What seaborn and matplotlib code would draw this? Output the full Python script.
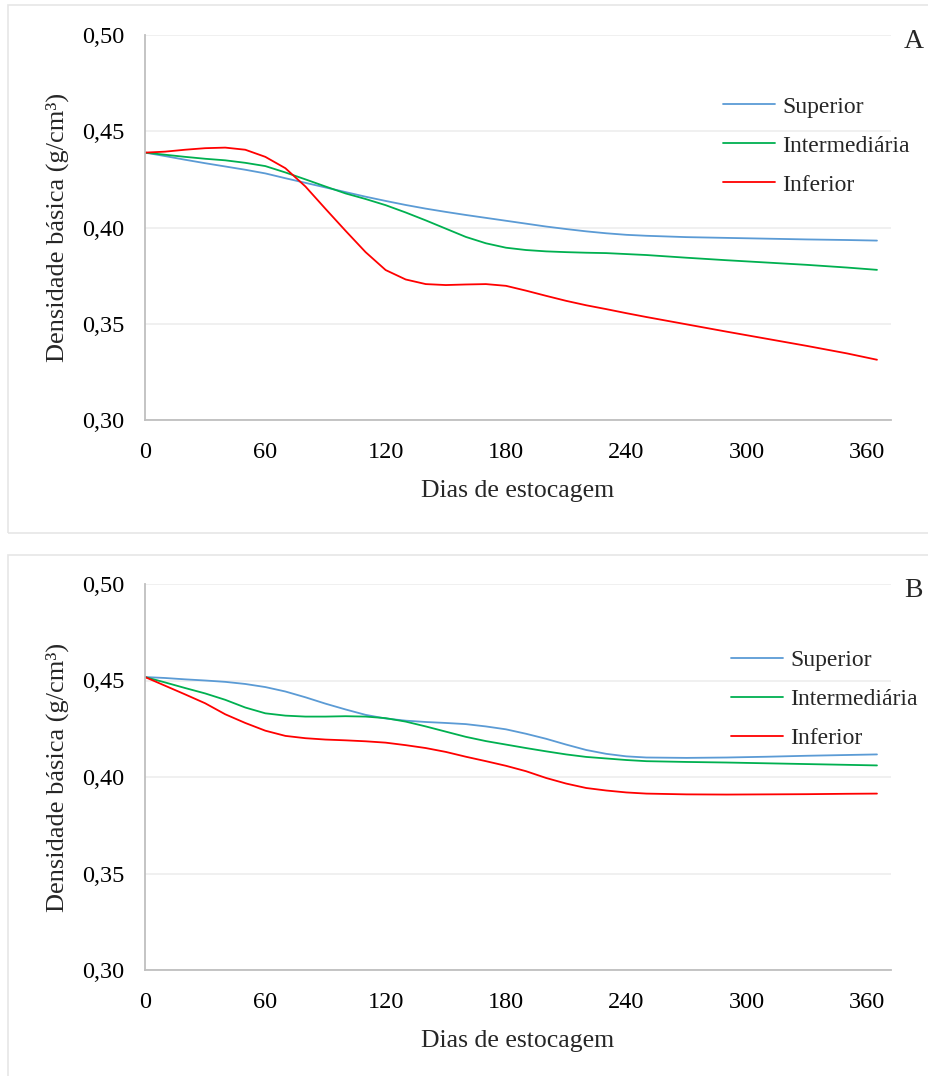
import numpy as np
import pandas as pd
import matplotlib
matplotlib.use("Agg")
import matplotlib.pyplot as plt
from matplotlib.patches import Rectangle
from matplotlib.ticker import FuncFormatter
import seaborn as sns

# ---- data ----
days = [0, 10, 20, 30, 40, 50, 60, 70, 80, 90, 100, 110, 120, 130, 140, 150, 160, 170, 180,
        190, 200, 210, 220, 230, 240, 250, 270, 290, 310, 330, 350, 365]

a_superior = [0.4389, 0.4371, 0.4352, 0.4334, 0.4317, 0.4300, 0.4281, 0.4256, 0.4232, 0.4208, 0.4184,
              0.4160, 0.4138, 0.4117, 0.4098, 0.4081, 0.4065, 0.4050, 0.4035, 0.4020, 0.4005, 0.3992,
              0.3980, 0.3970, 0.3962, 0.3957, 0.3950, 0.3946, 0.3942, 0.3938, 0.3935, 0.3932]
a_intermediaria = [0.4389, 0.4378, 0.4367, 0.4357, 0.4349, 0.4336, 0.4319, 0.4286, 0.4250, 0.4213, 0.4177,
                   0.4148, 0.4116, 0.4078, 0.4037, 0.3994, 0.3951, 0.3918, 0.3895, 0.3883, 0.3876, 0.3872,
                   0.3869, 0.3867, 0.3862, 0.3857, 0.3843, 0.3830, 0.3818, 0.3806, 0.3792, 0.3780]
a_inferior = [0.4389, 0.4394, 0.4404, 0.4412, 0.4415, 0.4404, 0.4367, 0.4308, 0.4213, 0.4097, 0.3983,
              0.3872, 0.3779, 0.3730, 0.3706, 0.3701, 0.3704, 0.3706, 0.3697, 0.3672, 0.3645, 0.3619,
              0.3596, 0.3576, 0.3555, 0.3535, 0.3497, 0.3459, 0.3422, 0.3385, 0.3346, 0.3313]

b_superior = [0.4518, 0.4513, 0.4506, 0.4500, 0.4493, 0.4482, 0.4466, 0.4443, 0.4413, 0.4380, 0.4350,
              0.4322, 0.4303, 0.4292, 0.4285, 0.4280, 0.4274, 0.4262, 0.4247, 0.4224, 0.4198, 0.4168,
              0.4140, 0.4120, 0.4107, 0.4101, 0.4099, 0.4101, 0.4105, 0.4110, 0.4114, 0.4117]
b_intermediaria = [0.4518, 0.4490, 0.4461, 0.4433, 0.4400, 0.4360, 0.4330, 0.4318, 0.4313, 0.4313, 0.4315,
                   0.4313, 0.4305, 0.4287, 0.4262, 0.4235, 0.4208, 0.4186, 0.4168, 0.4150, 0.4133, 0.4117,
                   0.4104, 0.4096, 0.4088, 0.4082, 0.4078, 0.4075, 0.4071, 0.4067, 0.4063, 0.4060]
b_inferior = [0.4518, 0.4473, 0.4428, 0.4382, 0.4325, 0.4280, 0.4240, 0.4213, 0.4201, 0.4194, 0.4190,
              0.4185, 0.4178, 0.4165, 0.4150, 0.4130, 0.4105, 0.4082, 0.4058, 0.4030, 0.3995, 0.3966,
              0.3943, 0.3930, 0.3920, 0.3914, 0.3910, 0.3909, 0.3910, 0.3911, 0.3913, 0.3914]

series_names = ["Superior", "Intermediária", "Inferior"]
panel_labels = ["A", "B"]
x_ticks = [0, 60, 120, 180, 240, 300, 360]
y_ticks = [0.30, 0.35, 0.40, 0.45, 0.50]
colors = ["#5B9BD5", "#00B050", "#FF0000"]

sns.set_theme(style="white")
plt.rcParams["font.family"] = ["Liberation Serif", "DejaVu Serif"]

fig = plt.figure(figsize=(9.29, 10.76), dpi=100)
W, H = 929, 1076

# panel frames
for (y0, y1) in [(5, 533), (555, 1080)]:
    fig.patches.append(Rectangle((8 / W, 1 - y1 / H), (930 - 8) / W, (y1 - y0) / H,
                                 transform=fig.transFigure, fill=False,
                                 edgecolor="#E6E6E6", linewidth=1.2, zorder=0))

panels = [
    (35, 420, [a_superior, a_intermediaria, a_inferior], 0.7117, 0.7748),
    (584, 970, [b_superior, b_intermediaria, b_inferior], 0.702, 0.7855),
]

for i, (top, bot, vals, leg_y, leg_x) in enumerate(panels):
    ax = fig.add_axes([145 / W, 1 - bot / H, (891 - 145) / W, (bot - top) / H])
    frames = []
    for name, v in zip(series_names, vals):
        frames.append(pd.DataFrame({"Dias": days, "Densidade": v, "Posição": name}))
    df = pd.concat(frames, ignore_index=True)
    sns.lineplot(data=df, x="Dias", y="Densidade", hue="Posição", palette=colors,
                 hue_order=series_names, linewidth=1.3, ax=ax)
    for ln in ax.get_lines():
        ln.set_solid_joinstyle("round")
    ax.set_xlim(0, 372)
    ax.set_ylim(0.30, 0.50)
    ax.set_xticks(x_ticks)
    ax.set_yticks(y_ticks)
    ax.yaxis.set_major_formatter(FuncFormatter(lambda v, p: f"{v:.2f}".replace(".", ",")))
    ax.tick_params(axis="both", length=0, labelsize=17.5, colors="black")
    ax.tick_params(axis="x", pad=16)
    ax.tick_params(axis="y", pad=15)
    ax.grid(axis="y", color="#EDEDED", linewidth=1.2)
    ax.grid(axis="x", visible=False)
    ax.set_axisbelow(True)
    for s in ["top", "right"]:
        ax.spines[s].set_visible(False)
    for s in ["left", "bottom"]:
        ax.spines[s].set_color("#BFBFBF")
        ax.spines[s].set_linewidth(1.3)
    ax.set_xlabel("Dias de estocagem", fontsize=18.5, labelpad=12)
    ax.set_ylabel("Densidade básica (g/cm³)", fontsize=19, labelpad=9)
    leg = ax.legend(loc="center left", bbox_to_anchor=(leg_x, leg_y), frameon=False,
                    fontsize=17, handlelength=2.2, handletextpad=0.3, labelspacing=0.74,
                    borderpad=0, borderaxespad=0, title=None)
    for line in leg.get_lines():
        line.set_linewidth(1.3)
    ax.text(1.03, 1.015, panel_labels[i], transform=ax.transAxes, fontsize=20,
            ha="center", va="top")

fig.savefig("out.png", dpi=100, facecolor="white")
